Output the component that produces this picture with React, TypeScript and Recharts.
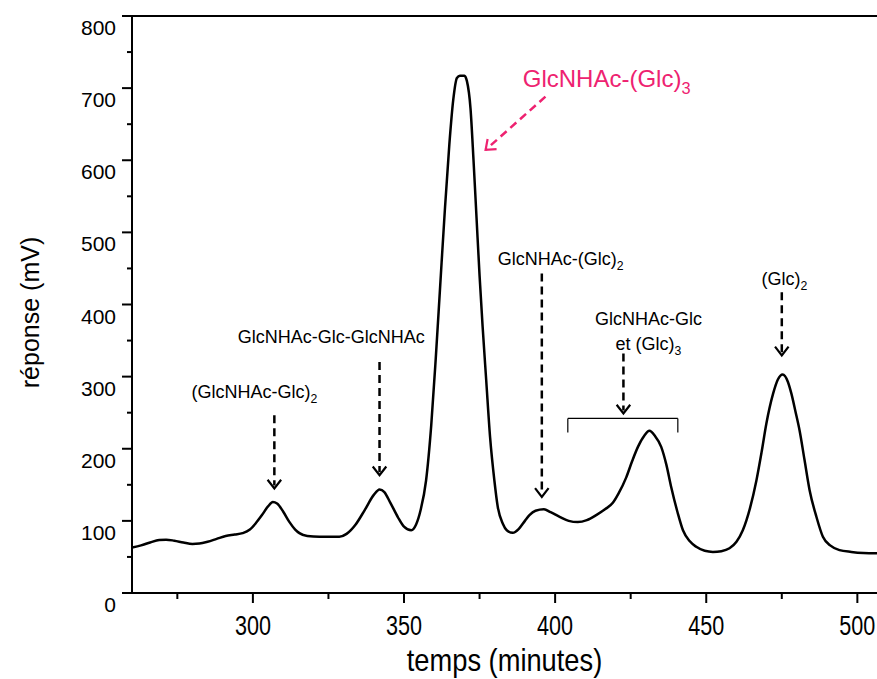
import React from 'react';
import { LineChart, Line, XAxis, YAxis, ReferenceLine, ReferenceDot } from 'recharts';

// chromatogram trace
const times = [
  260, 263, 266, 269, 271.3, 274, 277, 280, 282.3, 285, 288, 291, 294, 296.6, 299, 301, 303, 305, 306.6, 308,
  310, 312, 314, 315.4, 318, 322, 326, 328.6, 331, 334, 337, 340, 341.9, 343.5, 345.5, 348, 350, 352.4, 354,
  355.5, 357.3, 359, 360.5, 362, 363.5, 365, 366.3, 367.5, 368.5, 370, 370.8, 372, 373, 374, 375, 376, 377.2,
  378.5, 379.9, 381, 382.7, 384, 386, 388, 390, 391.5, 393.5, 396.3, 398.5, 401.5, 404.5, 407.5, 410.5, 413.6,
  416.5, 419.1, 421, 423.5, 425.5, 427.4, 429.5, 431.2, 433, 435.1, 436.8, 438.4, 440.5, 442.3, 444.5, 446.7,
  449.5, 452.2, 455, 457.7, 460, 462.1, 464.5, 466.6, 468.3, 469.9, 472.1, 473.7, 475.3, 477, 478.2, 479.5,
  480.9, 482.5, 484.2, 486.5, 488.6, 491, 494.1, 498, 502, 506.5,
];
const responses = [
  63, 66, 70, 73.5, 74, 72.5, 70, 68, 68.5, 71, 75, 79, 81, 83, 88, 97, 108, 120, 126, 124,
  113, 99, 88, 83, 79, 78, 78, 78, 82, 95, 115, 136, 143.6, 140, 125, 105, 92, 87, 95,
  115, 156, 232, 325, 428, 530, 622, 684, 714, 717, 717, 710, 672, 600, 520, 440, 370, 295,
  215, 156, 120, 96, 87, 83.5, 89, 100, 108, 114, 116, 112, 105.7, 100, 98.3, 101, 108,
  116, 125, 138, 160, 183, 202.6, 218, 224.8, 218, 202.6, 178, 147, 112, 87, 72, 64,
  58.5, 57, 58, 62, 71, 87, 118, 156, 195, 235, 276, 296, 303, 293, 276, 252,
  225, 185, 142.6, 105, 78, 66, 59.5, 57, 55.5, 55,
];

const xTicks = [275, 300, 325, 350, 375, 400, 425, 450, 475, 500];
const yTicks = [0, 50, 100, 150, 200, 250, 300, 350, 400, 450, 500, 550, 600, 650, 700, 750, 800];

// peak annotations (black)
const labelText = ['(GlcNHAc-Glc)', 'GlcNHAc-Glc-GlcNHAc', 'GlcNHAc-(Glc)', 'GlcNHAc-Glc', 'et (Glc)', '(Glc)'];
const labelSub = ['2', '', '2', '', '3', '2'];
const labelTime = [300.5, 325.9, 401.8, 430.9, 430.9, 475.9];
const labelValue = [278.7, 354.9, 463.9, 381, 346, 436];

const arrowTime = [307.1, 341.9, 395.6, 422.6, 475.0];
const arrowFrom = [246.5, 320.3, 443, 332, 417];
const arrowTo = [145, 163.4, 133.3, 249, 329.5];

// bracket over the GlcNHAc-Glc / (Glc)3 region
const bracketStart = 404.2;
const bracketEnd = 440.6;
const bracketTop = 242;
const bracketFoot = 222.5;

// main peak label (pink)
const mainText = 'GlcNHAc-(Glc)';
const mainSub = '3';
const mainTime = 389.3;
const mainValue = 712.7;
const mainArrowFrom = { x: 396.8, y: 688.2 };
const mainArrowTo = { x: 377.0, y: 614.4 };

const PINK = '#EE2270';
const SANS = '"Liberation Sans", Arial, sans-serif';

const data = times.map((t, i) => ({ t, v: responses[i] }));

const XTick = (p: any) => {
  const { x, y, payload } = p;
  const major = payload.value % 50 === 0;
  return (
    <g>
      <line x1={x} x2={x} y1={y} y2={y + (major ? 10 : 6)} stroke="#000" strokeWidth={2} />
      {major && (
        <text
          transform={`translate(${x},${y + 42}) scale(0.8,1)`}
          textAnchor="middle"
          fontFamily={SANS}
          fontSize={27}
          fill="#000"
        >
          {payload.value}
        </text>
      )}
    </g>
  );
};

const YTick = (p: any) => {
  const { x, y, payload } = p;
  const major = payload.value % 100 === 0;
  return (
    <g>
      <line x1={x - (major ? 10 : 5)} x2={x} y1={y} y2={y} stroke="#000" strokeWidth={2} />
      {major && (
        <text x={x - 16} y={y + 19} textAnchor="end" fontFamily={SANS} fontSize={21} fill="#000">
          {payload.value}
        </text>
      )}
    </g>
  );
};

const XTitle = (p: any) => {
  const { x, width } = p.viewBox;
  return (
    <text
      transform={`translate(${x + width / 2},${671}) scale(0.88,1)`}
      textAnchor="middle"
      fontFamily={SANS}
      fontSize={31}
      fill="#000"
    >
      temps (minutes)
    </text>
  );
};

const YTitle = (p: any) => {
  const { y, height } = p.viewBox;
  const cy = y + height / 2 + 8;
  return (
    <text
      transform={`translate(39,${cy}) rotate(-90)`}
      textAnchor="middle"
      fontFamily={SANS}
      fontSize={25}
      fill="#000"
    >
      réponse (mV)
    </text>
  );
};

const arrowHead = (color: string, dx: number, dy: number) => (p: any) => {
  const { cx, cy } = p;
  const len = Math.hypot(dx, dy);
  const bx = -dx / len;
  const by = -dy / len;
  const a = (38 * Math.PI) / 180;
  const s = 11;
  const r1x = bx * Math.cos(a) - by * Math.sin(a);
  const r1y = bx * Math.sin(a) + by * Math.cos(a);
  const r2x = bx * Math.cos(-a) - by * Math.sin(-a);
  const r2y = bx * Math.sin(-a) + by * Math.cos(-a);
  return (
    <path
      d={`M${cx + r1x * s},${cy + r1y * s}L${cx},${cy}L${cx + r2x * s},${cy + r2y * s}`}
      fill="none"
      stroke={color}
      strokeWidth={2.2}
    />
  );
};

const labelShape = (text: string, sub: string, color: string, size: number, anchor: string) => (p: any) => {
  const { cx, cy } = p;
  return (
    <text x={cx} y={cy} dy="0.35em" textAnchor={anchor} fontFamily={SANS} fontSize={size} fill={color}>
      {text}
      {sub && (
        <tspan fontSize={size * 0.68} dy={size * 0.28}>
          {sub}
        </tspan>
      )}
    </text>
  );
};

export default function App() {
  return (
    <div style={{ position: 'absolute', left: 0, top: 0, width: 877, height: 679, background: '#fff' }}>
      <LineChart width={877} height={679} data={data} margin={{ top: 16, right: 0, bottom: 0, left: 0 }}>
        <XAxis
          type="number"
          dataKey="t"
          domain={[260, 506.5]}
          ticks={xTicks}
          allowDataOverflow
          height={86}
          tickSize={0}
          tickMargin={0}
          tickLine={false}
          tick={<XTick />}
          axisLine={{ stroke: '#000', strokeWidth: 2 }}
          label={<XTitle />}
        />
        <YAxis
          type="number"
          domain={[0, 800]}
          ticks={yTicks}
          width={132}
          tickSize={0}
          tickMargin={0}
          tickLine={false}
          tick={<YTick />}
          axisLine={{ stroke: '#000', strokeWidth: 2 }}
          label={<YTitle />}
        />
        <ReferenceLine y={800} stroke="#000" strokeWidth={2} ifOverflow="extendDomain" />

        <Line
          type="monotone"
          dataKey="v"
          stroke="#000"
          strokeWidth={2.5}
          dot={false}
          isAnimationActive={false}
        />

        {arrowTime.map((t, i) => (
          <ReferenceLine
            key={`al${i}`}
            segment={[
              { x: t, y: arrowFrom[i] },
              { x: t, y: arrowTo[i] + 4 },
            ]}
            stroke="#000"
            strokeWidth={2.5}
            strokeDasharray="8 5"
          />
        ))}
        {arrowTime.map((t, i) => (
          <ReferenceDot key={`ah${i}`} x={t} y={arrowTo[i]} r={1} shape={arrowHead('#000', 0, 1)} />
        ))}
        {labelText.map((txt, i) => (
          <ReferenceDot
            key={`lb${i}`}
            x={labelTime[i]}
            y={labelValue[i]}
            r={1}
            shape={labelShape(txt, labelSub[i], '#000', 18, 'middle')}
          />
        ))}

        <ReferenceLine
          segment={[
            { x: bracketStart, y: bracketFoot },
            { x: bracketStart, y: bracketTop },
          ]}
          stroke="#000"
          strokeWidth={1.2}
        />
        <ReferenceLine
          segment={[
            { x: bracketStart, y: bracketTop },
            { x: bracketEnd, y: bracketTop },
          ]}
          stroke="#000"
          strokeWidth={1.2}
        />
        <ReferenceLine
          segment={[
            { x: bracketEnd, y: bracketTop },
            { x: bracketEnd, y: bracketFoot },
          ]}
          stroke="#000"
          strokeWidth={1.2}
        />

        <ReferenceLine
          segment={[mainArrowFrom, mainArrowTo]}
          stroke={PINK}
          strokeWidth={2.5}
          strokeDasharray="8 5"
        />
        <ReferenceDot
          x={mainArrowTo.x}
          y={mainArrowTo.y}
          r={1}
          shape={arrowHead(PINK, -61, 54)}
        />
        <ReferenceDot
          x={mainTime}
          y={mainValue}
          r={1}
          shape={labelShape(mainText, mainSub, PINK, 24, 'start')}
        />
      </LineChart>
    </div>
  );
}
